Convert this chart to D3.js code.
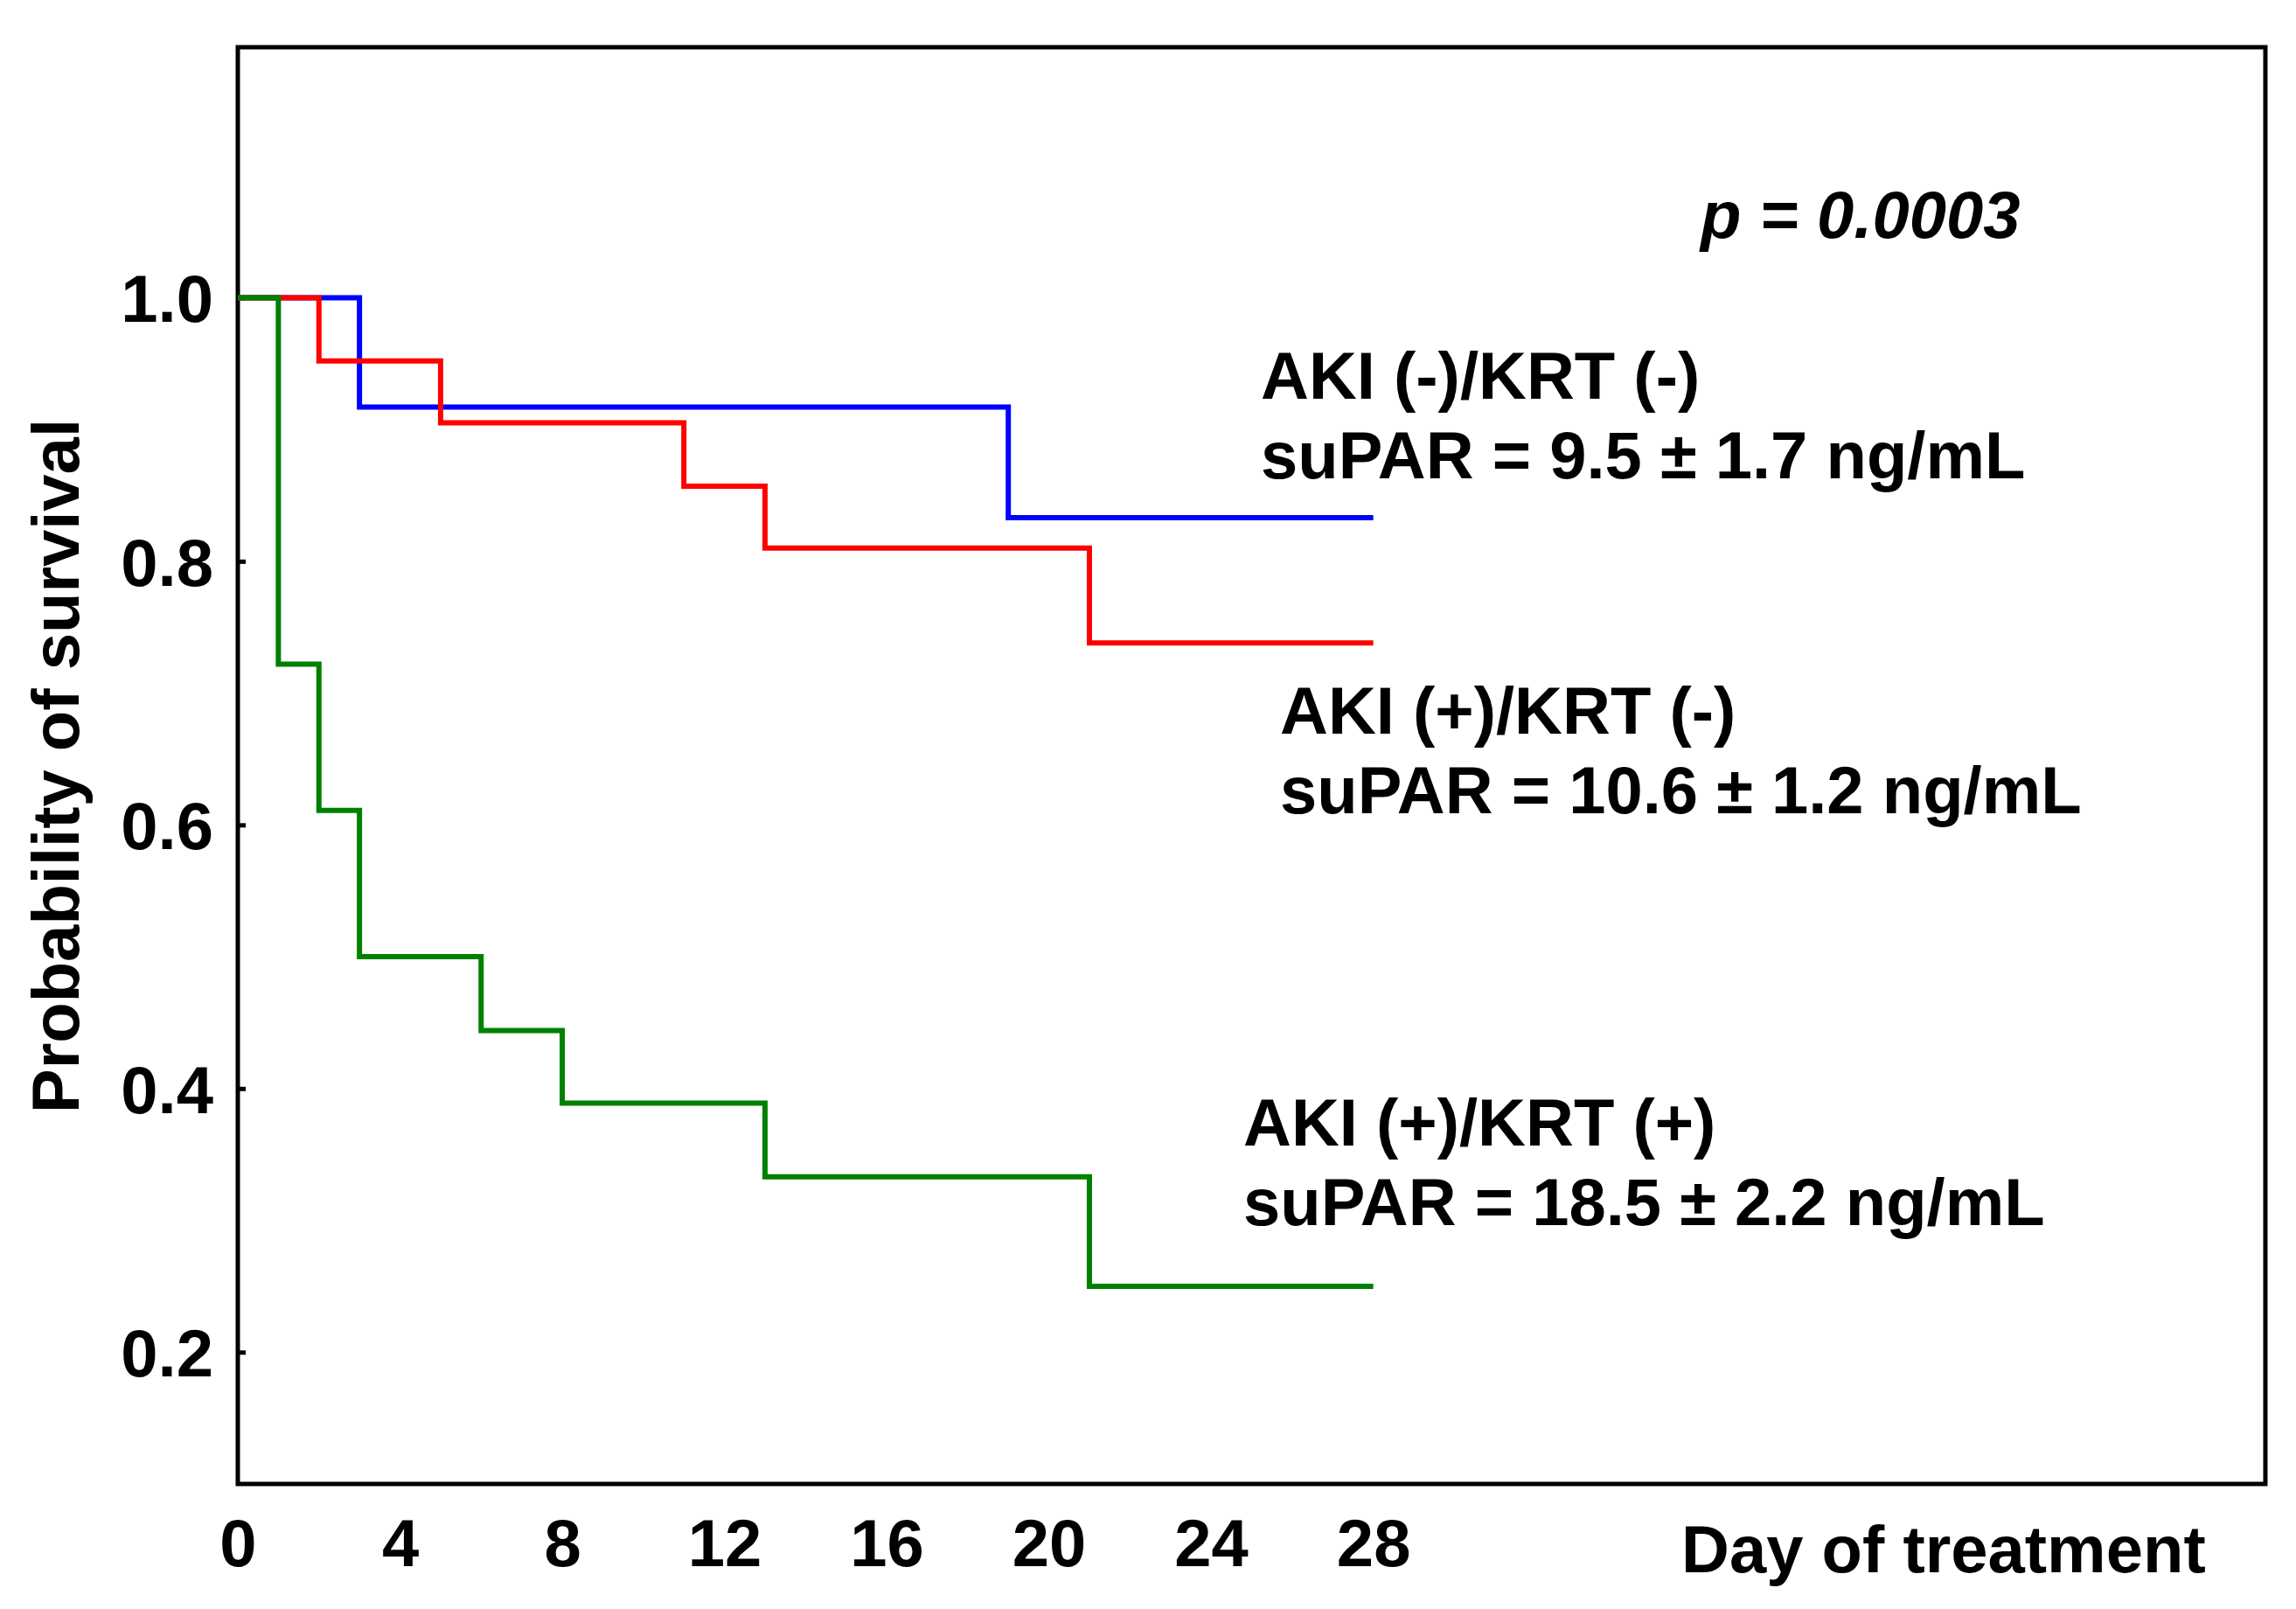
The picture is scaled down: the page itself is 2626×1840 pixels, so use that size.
<!DOCTYPE html>
<html>
<head>
<meta charset="utf-8">
<script src="https://cdn.jsdelivr.net/npm/d3@7"></script>
<style>
  body { margin: 0; background: #fff; }
  text { font-family: "Liberation Sans", Arial, sans-serif; font-weight: bold; fill: #000; }
</style>
</head>
<body>
<script>
// survival data
var daysBlue  = [0, 3, 19, 28];
var survBlue  = [1.0, 0.917, 0.833, 0.833];
var daysRed   = [0, 2, 5, 11, 13, 21, 28];
var survRed   = [1.0, 0.952, 0.905, 0.857, 0.810, 0.738, 0.738];
var daysGreen = [0, 1, 2, 3, 6, 8, 13, 21, 28];
var survGreen = [1.0, 0.722, 0.611, 0.500, 0.444, 0.389, 0.333, 0.250, 0.250];

var xTicks = [0, 4, 8, 12, 16, 20, 24, 28];
var yTicks = [0.2, 0.4, 0.6, 0.8, 1.0];

var groupNames = ["AKI (-)/KRT (-)", "AKI (+)/KRT (-)", "AKI (+)/KRT (+)"];
var groupSuPAR = ["suPAR = 9.5 \u00B1 1.7 ng/mL", "suPAR = 10.6 \u00B1 1.2 ng/mL", "suPAR = 18.5 \u00B1 2.2 ng/mL"];
var pText = "p = 0.0003";

function draw(){

var w = 2626, h = 1840;
var mLeft = 272, mRight = 2591, mTop = 54, mBottom = 1697;
var fs = 76;

var svg = d3.select("body").append("svg")
    .attr("width", w)
    .attr("height", h);

var x = d3.scaleLinear().domain([0, 50]).range([mLeft, mRight]);
var y = d3.scaleLinear().domain([0.1, 1.19]).range([mBottom, mTop]);

// frame
svg.append("rect")
    .attr("x", mLeft).attr("y", mTop)
    .attr("width", mRight - mLeft).attr("height", mBottom - mTop)
    .attr("fill", "none").attr("stroke", "#000").attr("stroke-width", 5);

// y axis (ticks inside, labels to the left)
var yAxis = svg.append("g")
    .attr("transform", "translate(" + mLeft + ",0)")
    .call(d3.axisRight(y).tickValues(yTicks).tickSize(9).tickFormat(d3.format(".1f")));
yAxis.select(".domain").remove();
yAxis.selectAll("line").attr("stroke-width", 5);
yAxis.selectAll("text")
    .attr("x", -28).attr("dy", "0.36em")
    .attr("text-anchor", "end")
    .style("font-size", fs + "px");

// x axis labels only
var xAxis = svg.append("g")
    .attr("transform", "translate(0," + mBottom + ")")
    .call(d3.axisBottom(x).tickValues(xTicks).tickSize(0));
xAxis.select(".domain").remove();
xAxis.selectAll("text")
    .attr("y", 94).attr("dy", 0)
    .style("font-size", fs + "px");

svg.append("text")
    .attr("x", 1923).attr("y", 1798)
    .style("font-size", fs + "px")
    .text("Day of treatment");

svg.append("text")
    .attr("transform", "translate(90,876) rotate(-90)")
    .attr("text-anchor", "middle")
    .style("font-size", fs + "px")
    .text("Probability of survival");

// curves
var line = d3.line()
    .x(function(d){ return x(d[0]); })
    .y(function(d){ return y(d[1]); })
    .curve(d3.curveStepAfter);

var curves = [
  {days: daysBlue, surv: survBlue, color: "#0000ff"},
  {days: daysRed, surv: survRed, color: "#ff0000"},
  {days: daysGreen, surv: survGreen, color: "#008000"}
];

svg.selectAll(".km")
    .data(curves)
    .enter()
    .append("path")
    .attr("class", "km")
    .attr("fill", "none")
    .attr("stroke", function(d){ return d.color; })
    .attr("stroke-width", 6)
    .attr("d", function(d){ return line(d.days.map(function(t, i){ return [t, d.surv[i]]; })); });

// annotations
var labelPos = [[1442, 456], [1464, 839], [1422, 1310]];
svg.selectAll(".gname")
    .data(groupNames)
    .enter()
    .append("text")
    .attr("class", "gname")
    .attr("x", function(d, i){ return labelPos[i][0]; })
    .attr("y", function(d, i){ return labelPos[i][1]; })
    .style("font-size", fs + "px")
    .text(function(d){ return d; });

svg.selectAll(".gsupar")
    .data(groupSuPAR)
    .enter()
    .append("text")
    .attr("class", "gsupar")
    .attr("x", function(d, i){ return labelPos[i][0]; })
    .attr("y", function(d, i){ return labelPos[i][1] + 91; })
    .style("font-size", fs + "px")
    .text(function(d){ return d; });

svg.append("text")
    .attr("x", 1945).attr("y", 272)
    .style("font-size", fs + "px")
    .style("font-style", "italic")
    .text(pText);
}

draw();
</script>
</body>
</html>
